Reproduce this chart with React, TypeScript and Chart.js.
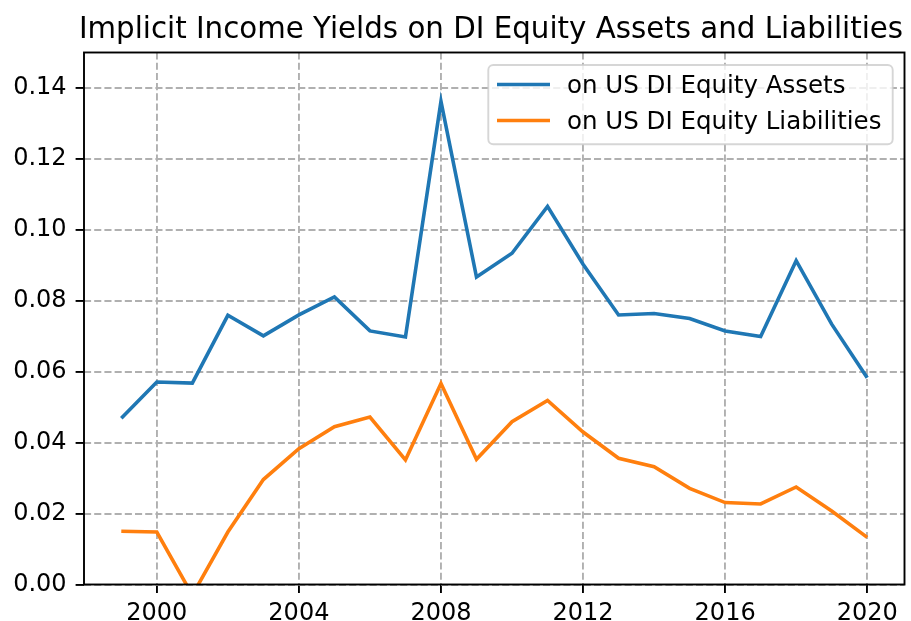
import React, { useEffect, useRef } from "react";
import { Chart, registerables } from "chart.js";

Chart.register(...registerables);

const TITLE = "Implicit Income Yields on DI Equity Assets and Liabilities";
const YEARS = [1999, 2000, 2001, 2002, 2003, 2004, 2005, 2006, 2007, 2008, 2009, 2010, 2011, 2012, 2013, 2014, 2015, 2016, 2017, 2018, 2019, 2020];
const ASSETS_LABEL = "on US DI Equity Assets";
const ASSETS = [0.0469, 0.0571, 0.0568, 0.0759, 0.0701, 0.0760, 0.0811, 0.0715, 0.0698, 0.1362, 0.0867, 0.0934, 0.1066, 0.0903, 0.0760, 0.0764, 0.0750, 0.0715, 0.0699, 0.0913, 0.0734, 0.0583];
const LIAB_LABEL = "on US DI Equity Liabilities";
const LIABILITIES = [0.0150, 0.0148, -0.0030, 0.0148, 0.0296, 0.0383, 0.0445, 0.0472, 0.0351, 0.0567, 0.0353, 0.0459, 0.0519, 0.0430, 0.0356, 0.0332, 0.0271, 0.0231, 0.0227, 0.0275, 0.0207, 0.0133];
const X_TICKS = [2000, 2004, 2008, 2012, 2016, 2020];
const Y_TICKS = [0, 0.02, 0.04, 0.06, 0.08, 0.1, 0.12, 0.14];

const FONT = "'DejaVu Sans', sans-serif";
const BLUE = "#1f77b4";
const ORANGE = "#ff7f0e";

const framePlugin = {
  id: "frame",
  afterDatasetsDraw(chart: any) {
    const { ctx, chartArea } = chart;
    const { left, right, top, bottom } = chartArea;
    ctx.save();
    // legend
    const lx0 = 488.3, ly0 = 65, lx1 = 892.7, ly1 = 144.3, r = 5;
    ctx.beginPath();
    ctx.moveTo(lx0 + r, ly0);
    ctx.lineTo(lx1 - r, ly0);
    ctx.arcTo(lx1, ly0, lx1, ly0 + r, r);
    ctx.lineTo(lx1, ly1 - r);
    ctx.arcTo(lx1, ly1, lx1 - r, ly1, r);
    ctx.lineTo(lx0 + r, ly1);
    ctx.arcTo(lx0, ly1, lx0, ly1 - r, r);
    ctx.lineTo(lx0, ly0 + r);
    ctx.arcTo(lx0, ly0, lx0 + r, ly0, r);
    ctx.closePath();
    ctx.fillStyle = "rgba(255,255,255,0.8)";
    ctx.fill();
    ctx.strokeStyle = "rgba(204,204,204,0.8)";
    ctx.lineWidth = 1.9;
    ctx.stroke();
    const items = chart.data.datasets.map((d: any) => ({ label: d.label, color: d.borderColor }));
    const lineYs = [84.5, 120.5];
    const baseYs = [93, 129.3];
    ctx.font = `24.5px ${FONT}`;
    ctx.textBaseline = "alphabetic";
    ctx.textAlign = "left";
    items.forEach((it: any, i: number) => {
      ctx.beginPath();
      ctx.moveTo(497, lineYs[i]);
      ctx.lineTo(550, lineYs[i]);
      ctx.strokeStyle = it.color;
      ctx.lineWidth = 3.6;
      ctx.stroke();
      ctx.fillStyle = "#000";
      ctx.fillText(it.label, 567, baseYs[i]);
    });
    // spines
    ctx.strokeStyle = "#000";
    ctx.lineWidth = 1.9;
    ctx.strokeRect(left, top, right - left, bottom - top);
    // title
    ctx.font = `29.3px ${FONT}`;
    ctx.textAlign = "center";
    ctx.fillStyle = "#000";
    ctx.fillText(TITLE, 491, 38.3);
    ctx.restore();
  },
};

export default function App() {
  const ref = useRef<HTMLCanvasElement | null>(null);
  useEffect(() => {
    if (!ref.current) return;
    const chart = new Chart(ref.current, {
      type: "line",
      data: {
        datasets: [
          {
            label: ASSETS_LABEL,
            data: YEARS.map((y, i) => ({ x: y, y: ASSETS[i] })),
            borderColor: BLUE,
            backgroundColor: BLUE,
            borderWidth: 3.6,
            pointRadius: 0,
            tension: 0,
          },
          {
            label: LIAB_LABEL,
            data: YEARS.map((y, i) => ({ x: y, y: LIABILITIES[i] })),
            borderColor: ORANGE,
            backgroundColor: ORANGE,
            borderWidth: 3.6,
            pointRadius: 0,
            tension: 0,
          },
        ],
      },
      options: {
        animation: false,
        responsive: false,
        devicePixelRatio: 1,
        layout: { padding: { top: 52.5, right: 6.5, left: 0, bottom: 0 } },
        plugins: {
          legend: { display: false },
          title: { display: false },
          tooltip: { enabled: false },
        },
        scales: {
          x: {
            type: "linear",
            min: 1997.95,
            max: 2021.05,
            afterBuildTicks: (s: any) => {
              s.ticks = X_TICKS.map((v) => ({ value: v }));
            },
            afterFit: (s: any) => {
              s.height = 36.5;
            },
            ticks: {
              callback: (v: any) => String(v),
              font: { family: FONT, size: 24 },
              color: "#000",
              padding: 6,
              maxRotation: 0,
              autoSkip: false,
            },
            grid: {
              color: "#b0b0b0",
              lineWidth: 1.9,
              tickColor: "#000",
              tickWidth: 1.9,
              tickLength: 8.4,
            },
            border: { display: false, dash: [7.1, 3.1] },
          },
          y: {
            type: "linear",
            min: 0,
            max: 0.15,
            afterBuildTicks: (s: any) => {
              s.ticks = Y_TICKS.map((v) => ({ value: v }));
            },
            afterFit: (s: any) => {
              s.width = 84;
            },
            ticks: {
              callback: (v: any) => Number(v).toFixed(2),
              font: { family: FONT, size: 24 },
              color: "#000",
              padding: 9,
              autoSkip: false,
            },
            grid: {
              color: "#b0b0b0",
              lineWidth: 1.9,
              tickColor: "#000",
              tickWidth: 1.9,
              tickLength: 8.4,
            },
            border: { display: false, dash: [7.1, 3.1] },
          },
        },
      },
      plugins: [framePlugin],
    } as any);
    return () => chart.destroy();
  }, []);
  return (
    <div style={{ position: "fixed", left: 0, top: 0, width: 911, height: 621, background: "#fff" }}>
      <canvas ref={ref} width={911} height={621} style={{ width: 911, height: 621, display: "block" }} />
    </div>
  );
}
